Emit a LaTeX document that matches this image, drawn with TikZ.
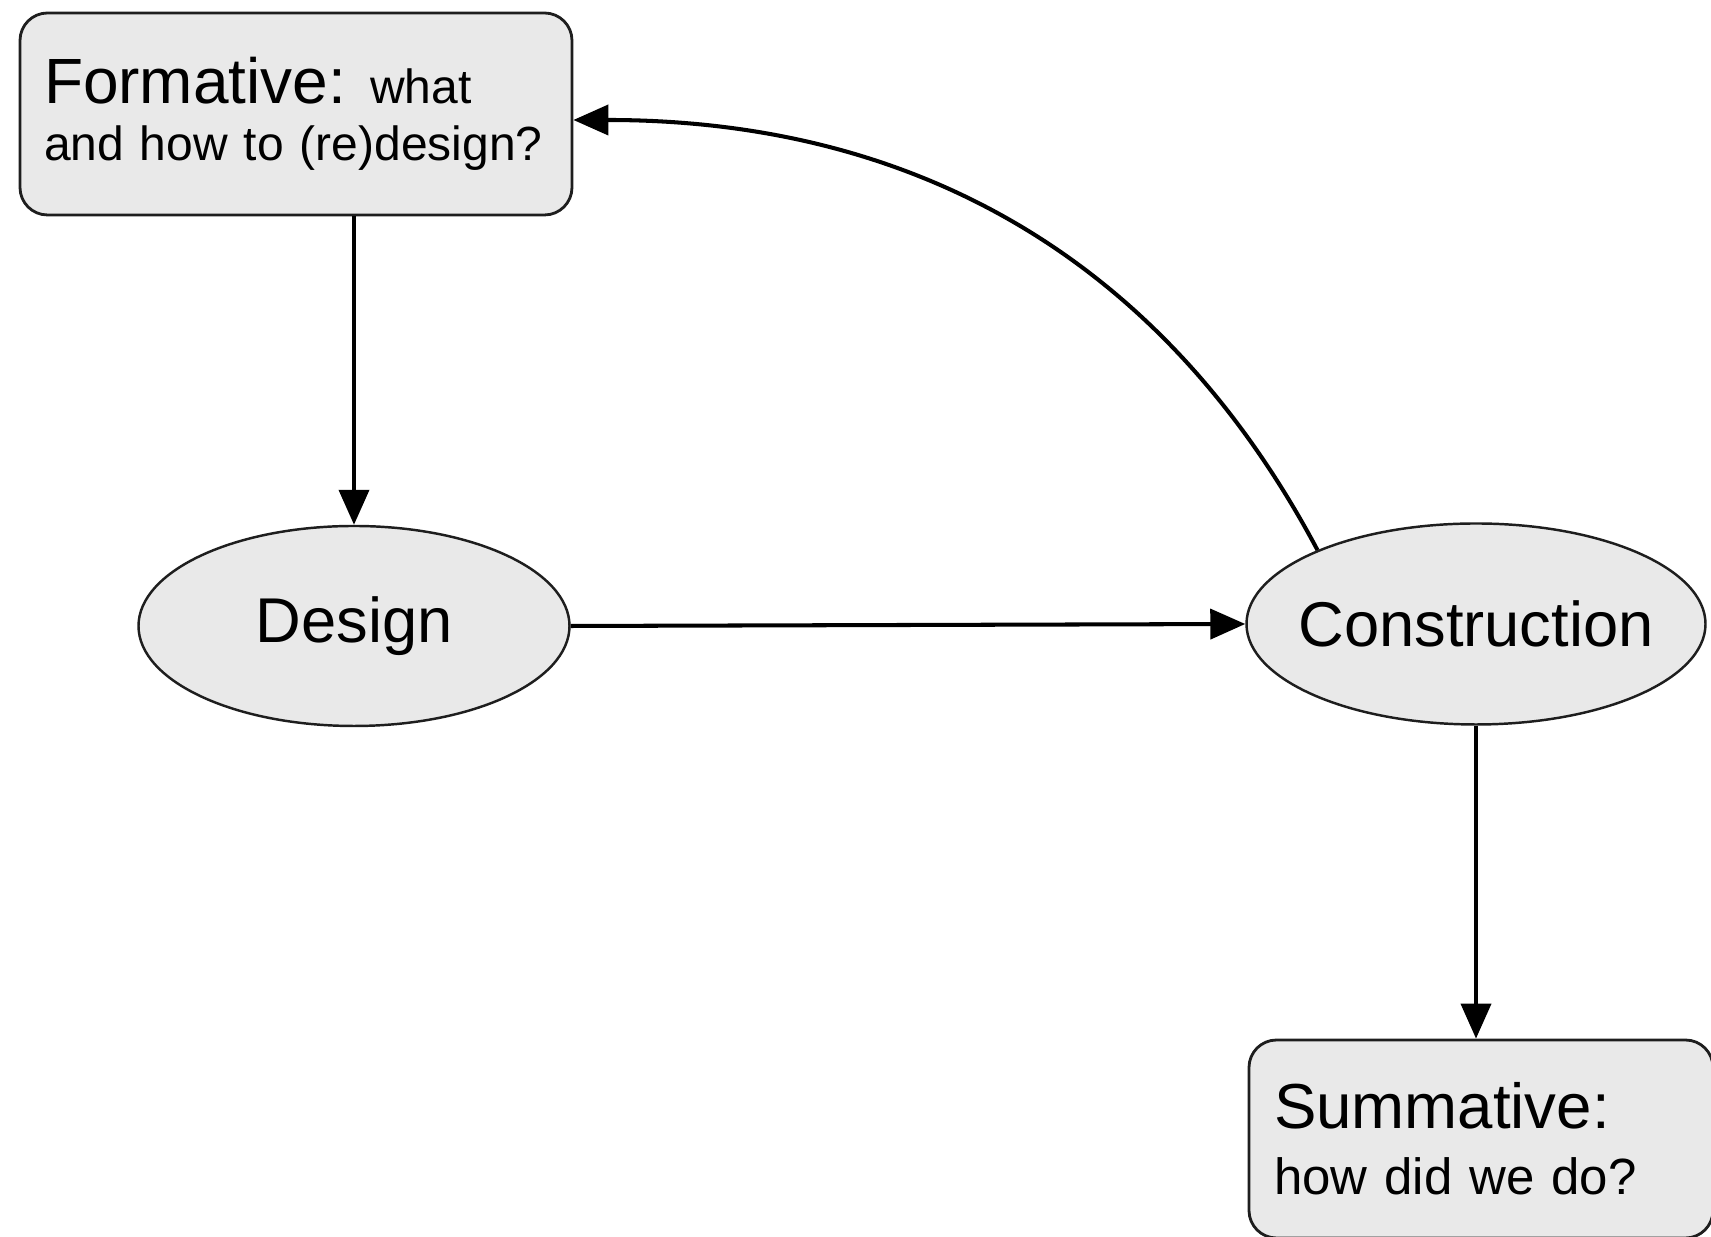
\documentclass[tikz,border=0pt]{standalone}
\usepackage{fontspec}
\setmainfont{Liberation Sans}
\definecolor{BoxFill}{HTML}{E9E9E9}
\definecolor{EdgeDark}{HTML}{1E1E1E}
\usetikzlibrary{positioning, arrows.meta, shapes.geometric}

\begin{document}
\begin{tikzpicture}[
  evalbox/.style={draw=EdgeDark, fill=BoxFill, line width=1.6pt, rounded corners=0.55cm,
    align=left, inner xsep=0.48cm, inner ysep=0pt},
  phase/.style={ellipse, draw=EdgeDark, fill=BoxFill, line width=1.4pt, inner sep=0pt,
    font=\fontsize{36pt}{40pt}\selectfont},
  arr/.style={draw=black, line width=2.3pt, -{Triangle[length=0.7cm, width=0.6cm]}},
]
  \useasboundingbox (0,0) rectangle (34.22,24.74);

  % Evaluation boxes
  \node[evalbox, minimum width=11.04cm, minimum height=4.04cm, text width=10.08cm,
    font=\fontsize{27.3pt}{32.3pt}\selectfont] (form) at (5.92, 22.46)
    {{\fontsize{36.4pt}{32.3pt}\selectfont Formative:} what\\and how to (re)design?};
  \node[evalbox, minimum width=9.28cm, minimum height=3.96cm, text width=8.28cm,
    font=\fontsize{29pt}{37.4pt}\selectfont] (summ) at (29.62, 1.96)
    {{\fontsize{36.2pt}{37.4pt}\selectfont Summative:}\\how did we do?};

  % Phases (text in zero-width boxes so the ellipse keeps its size)
  \node[phase, minimum width=8.62cm, minimum height=4.0cm] (design) at (7.08, 12.22)
    {\makebox[0pt]{Design}};
  \node[phase, minimum width=9.18cm, minimum height=4.02cm] (constr) at (29.52, 12.26)
    {\makebox[0pt]{Construction}};

  % Connectors
  \draw[arr] (form.south -| design.north) -- (design.north);
  \draw[arr] (design.east) -- (constr.west);
  \draw[arr] (constr.south) -- (constr.south |- summ.north);
  \draw[arr] (constr.155) to[out=118, in=0] ([yshift=-0.12cm]form.east);
\end{tikzpicture}
\end{document}
